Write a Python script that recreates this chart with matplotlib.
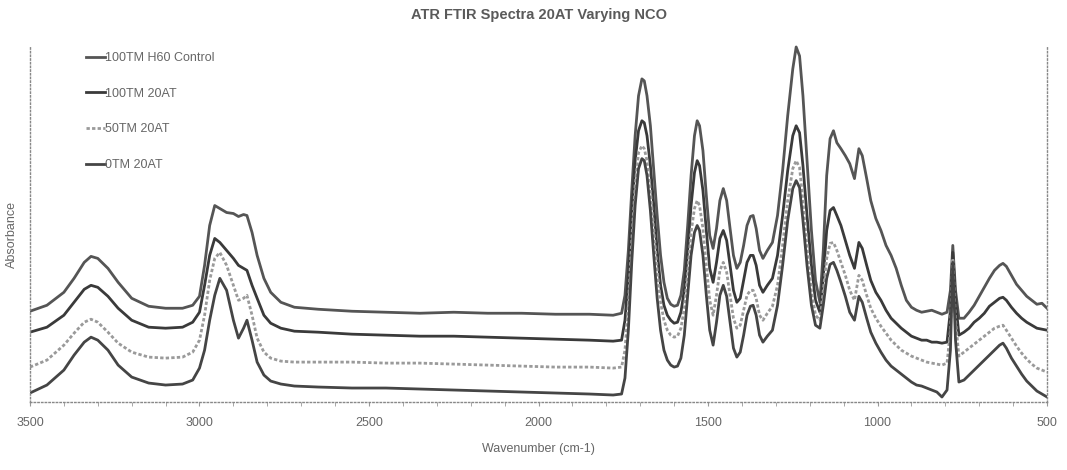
import matplotlib
matplotlib.use("Agg")
import matplotlib.pyplot as plt

plt.rcParams["font.family"] = ["Liberation Sans", "DejaVu Sans"]

# wavenumber grid (cm-1), shared by all four spectra
wavenumber = [
    3500, 3450, 3400, 3370, 3340, 3320, 3300, 3270, 3240, 3200,
    3150, 3100, 3050, 3020, 3000, 2985, 2970, 2955, 2940, 2920,
    2900, 2885, 2870, 2860, 2845, 2830, 2810, 2790, 2760, 2720,
    2650, 2550, 2450, 2350, 2250, 2150, 2050, 1950, 1850, 1780,
    1755, 1745, 1735, 1725, 1715, 1705, 1695, 1688, 1680, 1670,
    1660, 1650, 1640, 1630, 1620, 1610, 1600, 1590, 1580, 1570,
    1560, 1550, 1540, 1532, 1525, 1515, 1505, 1495, 1485, 1475,
    1465, 1455, 1445, 1435, 1425, 1415, 1405, 1395, 1385, 1375,
    1367, 1358, 1348, 1338, 1325, 1310, 1295, 1280, 1265, 1250,
    1240, 1230, 1220, 1208, 1195, 1183, 1170, 1160, 1150, 1140,
    1130, 1120, 1108, 1095, 1082, 1068, 1055, 1045, 1032, 1020,
    1005, 990, 975, 960, 945, 930, 915, 900, 885, 870,
    855, 840, 825, 810, 795, 785, 778, 770, 760, 745,
    730, 715, 700, 685, 670, 655, 640, 630, 620, 605,
    590, 575, 560, 545, 530, 515, 500,
]

# absorbance, arbitrary units (spectra stacked with offsets as in the original)
abs_100tm_h60 = [
    91, 97, 110, 124, 140, 146, 144, 134, 120, 104,
    96, 94, 94, 97, 106, 137, 177, 197, 194, 190,
    189, 186, 188, 187, 170, 147, 124, 110, 100, 95,
    93, 91, 90, 89, 90, 89, 89, 88, 88, 87,
    89, 107, 152, 212, 267, 307, 324, 322, 307, 277,
    232, 187, 147, 120, 104, 98, 96, 97, 107, 132,
    177, 227, 267, 282, 277, 252, 207, 167, 154, 174,
    202, 214, 202, 174, 147, 134, 140, 157, 177, 186,
    187, 174, 152, 144, 152, 160, 187, 232, 287, 334,
    356, 347, 307, 242, 172, 122, 100, 152, 227, 264,
    272, 260, 254, 247, 239, 224, 254, 247, 224, 202,
    184, 172, 157, 147, 134, 117, 102, 95, 92, 90,
    91, 92, 90, 88, 90, 112, 157, 112, 84, 84,
    90, 97, 106, 115, 124, 132, 137, 139, 136, 127,
    118, 112, 106, 102, 98, 99, 94,
]
abs_100tm_20at = [
    70, 75, 87, 100, 113, 117, 115, 106, 94, 82,
    75, 74, 75, 80, 90, 117, 147, 164, 160, 152,
    144, 137, 134, 132, 117, 104, 87, 79, 74, 71,
    70, 68, 67, 66, 66, 65, 64, 63, 62, 61,
    62, 82, 127, 192, 242, 272, 282, 280, 267, 237,
    197, 152, 117, 97, 87, 82, 79, 80, 90, 112,
    152, 197, 230, 242, 237, 212, 172, 134, 120, 140,
    164, 172, 162, 137, 112, 100, 104, 122, 140, 147,
    147, 137, 117, 110, 117, 124, 147, 187, 232, 267,
    277, 270, 237, 187, 137, 102, 90, 127, 172, 192,
    195, 187, 177, 162, 147, 134, 160, 154, 137, 122,
    110, 102, 92, 84, 79, 74, 70, 66, 64, 62,
    62, 60, 60, 59, 60, 92, 150, 102, 67, 70,
    74, 80, 84, 89, 96, 100, 104, 105, 102, 95,
    89, 84, 80, 77, 74, 73, 72,
]
abs_50tm_20at = [
    35, 42, 57, 69, 80, 83, 80, 70, 59, 50,
    45, 44, 45, 50, 62, 87, 122, 144, 150, 137,
    117, 102, 104, 107, 87, 64, 50, 44, 41, 40,
    40, 40, 39, 39, 38, 37, 36, 35, 35, 34,
    35, 52, 97, 162, 217, 250, 257, 254, 242, 212,
    172, 132, 100, 82, 72, 67, 65, 66, 74, 94,
    130, 170, 194, 202, 197, 174, 137, 102, 87, 107,
    132, 140, 130, 107, 84, 74, 77, 92, 107, 112,
    112, 104, 87, 82, 89, 96, 117, 157, 202, 234,
    242, 235, 202, 157, 112, 87, 82, 112, 144, 159,
    160, 152, 140, 127, 112, 102, 127, 122, 107, 94,
    84, 76, 69, 62, 57, 52, 49, 46, 44, 42,
    40, 39, 38, 37, 39, 72, 144, 82, 46, 50,
    54, 58, 62, 66, 70, 74, 76, 77, 72, 64,
    56, 49, 43, 38, 34, 32, 30,
]
abs_0tm_20at = [
    9, 17, 32, 47, 60, 65, 62, 52, 37, 25,
    19, 17, 18, 22, 34, 52, 82, 107, 124, 112,
    82, 64, 74, 82, 62, 40, 27, 21, 18, 16,
    15, 14, 14, 13, 12, 11, 10, 9, 8, 7,
    8, 24, 72, 140, 197, 234, 244, 242, 227, 192,
    147, 104, 72, 52, 42, 37, 35, 36, 44, 67,
    107, 147, 170, 177, 172, 147, 107, 72, 57, 80,
    107, 117, 106, 80, 54, 45, 50, 67, 87, 96,
    97, 87, 67, 60, 66, 72, 97, 137, 182, 214,
    222, 215, 182, 137, 97, 77, 74, 97, 124, 138,
    140, 132, 120, 106, 90, 82, 106, 100, 84, 70,
    59, 50, 42, 36, 32, 28, 24, 20, 17, 16,
    14, 12, 10, 5, 12, 52, 140, 62, 20, 22,
    27, 32, 37, 42, 47, 52, 57, 59, 54, 44,
    36, 28, 21, 16, 11, 8, 5,
]

series = [
    ("100TM H60 Control", abs_100tm_h60, "#555555", "-"),
    ("100TM 20AT", abs_100tm_20at, "#3a3a3a", "-"),
    ("50TM 20AT", abs_50tm_20at, "#9a9a9a", (0, (1.2, 0.8))),
    ("0TM 20AT", abs_0tm_20at, "#454545", "-"),
]

TXT = "#666666"

fig = plt.figure(figsize=(10.67, 4.70), dpi=100)
ax = fig.add_axes([0.0281, 0.1447, 0.9532, 0.7596])

for label, vals, color, ls in series:
    ax.plot(wavenumber, vals, color=color, lw=2.0, ls=ls, label=label)

ax.set_xlim(3500, 500)
ax.set_ylim(0, 358)

ax.set_xticks([3500, 3000, 2500, 2000, 1500, 1000, 500])
ax.set_xticks(range(600, 3500, 100), minor=True)
ax.set_yticks([])
ax.tick_params(axis="x", which="both", length=3, color="#999999",
               labelsize=9, labelcolor=TXT, pad=8)

for side in ["left", "bottom", "right"]:
    ax.spines[side].set_linestyle(":")
    ax.spines[side].set_color("#888888")
    ax.spines[side].set_linewidth(1.0)
ax.spines["top"].set_visible(False)

ax.set_xlabel("Wavenumber (cm-1)", fontsize=9, color=TXT, labelpad=10)
ax.set_ylabel("Absorbance", fontsize=9, color=TXT)
ax.yaxis.set_label_coords(-0.012, 0.47)
ax.set_title("ATR FTIR Spectra 20AT Varying NCO", fontsize=10.5,
             fontweight="bold", color="#5a5a5a", pad=19)

ax.legend(loc="upper left", bbox_to_anchor=(0.044, 1.012), frameon=False,
          fontsize=9, handlelength=1.5, handletextpad=0.05,
          labelspacing=1.9, labelcolor=TXT)

fig.savefig("out.png", dpi=100)
